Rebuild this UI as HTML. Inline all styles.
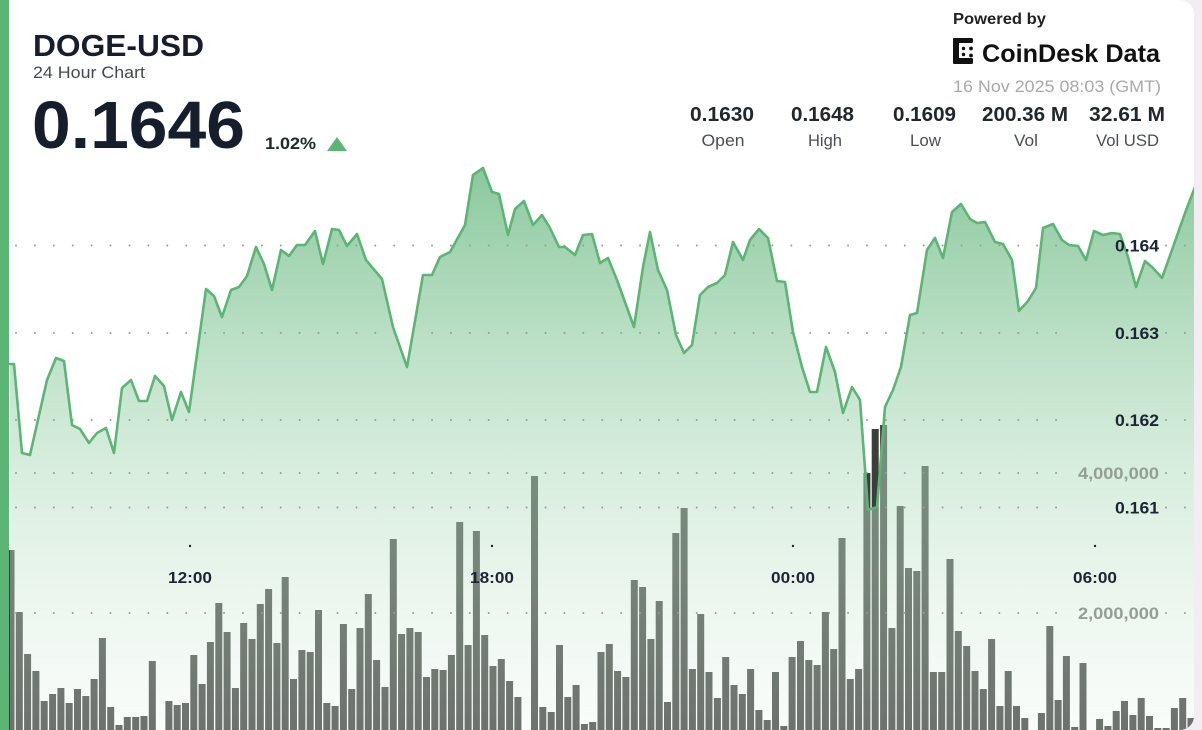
<!DOCTYPE html>
<html><head><meta charset="utf-8"><style>
html,body{margin:0;padding:0;background:#f2ecf3;width:1202px;height:730px;overflow:hidden;}
svg{display:block;font-family:"Liberation Sans",sans-serif;}
</style></head><body>
<svg width="1202" height="730" viewBox="0 0 1202 730" xmlns="http://www.w3.org/2000/svg">
<defs>
<clipPath id="card"><rect x="-30" y="0" width="1224" height="730" rx="14"/></clipPath>
<linearGradient id="g" gradientUnits="userSpaceOnUse" x1="0" y1="165" x2="0" y2="730">
<stop offset="0" stop-color="rgb(92,178,118)" stop-opacity="0.72"/>
<stop offset="0.55" stop-color="rgb(178,221,190)" stop-opacity="0.5"/>
<stop offset="1" stop-color="rgb(235,245,238)" stop-opacity="0.28"/>
</linearGradient>
</defs>
<g clip-path="url(#card)">
<rect x="0" y="0" width="1202" height="730" fill="#ffffff"/>
<path fill="#3b3e3b" d="M7.5,550h7V730h-7zM15.8,612h7V730h-7zM24.1,654h7V730h-7zM32.4,671h7V730h-7zM40.7,701h7V730h-7zM49.1,694h7V730h-7zM57.4,688h7V730h-7zM65.7,703h7V730h-7zM74,689h7V730h-7zM82.3,696h7V730h-7zM90.6,679h7V730h-7zM98.9,638h7V730h-7zM107.2,707h7V730h-7zM115.5,725h7V730h-7zM123.8,717h7V730h-7zM132.2,717h7V730h-7zM140.5,716h7V730h-7zM148.8,661h7V730h-7zM165.4,701h7V730h-7zM173.7,705h7V730h-7zM182,703h7V730h-7zM190.3,655h7V730h-7zM198.6,684h7V730h-7zM206.9,642h7V730h-7zM215.3,603h7V730h-7zM223.6,632h7V730h-7zM231.9,688h7V730h-7zM240.2,623h7V730h-7zM248.5,639h7V730h-7zM256.8,604h7V730h-7zM265.1,589h7V730h-7zM273.4,643h7V730h-7zM281.7,577h7V730h-7zM290,679h7V730h-7zM298.4,650h7V730h-7zM306.7,652h7V730h-7zM315,610h7V730h-7zM323.3,703h7V730h-7zM331.6,706h7V730h-7zM339.9,624h7V730h-7zM348.2,689h7V730h-7zM356.5,628h7V730h-7zM364.8,594h7V730h-7zM373.1,660h7V730h-7zM381.5,687h7V730h-7zM389.8,539h7V730h-7zM398.1,634h7V730h-7zM406.4,628h7V730h-7zM414.7,632h7V730h-7zM423,677h7V730h-7zM431.3,669h7V730h-7zM439.6,670h7V730h-7zM447.9,655h7V730h-7zM456.2,522h7V730h-7zM464.6,645h7V730h-7zM472.9,531h7V730h-7zM481.2,635h7V730h-7zM489.5,666h7V730h-7zM497.8,659h7V730h-7zM506.1,681h7V730h-7zM514.4,697h7V730h-7zM531,476h7V730h-7zM539.3,707h7V730h-7zM547.7,712h7V730h-7zM556,645h7V730h-7zM564.3,697h7V730h-7zM572.6,685h7V730h-7zM580.9,724h7V730h-7zM589.2,722h7V730h-7zM597.5,652h7V730h-7zM605.8,644h7V730h-7zM614.1,671h7V730h-7zM622.4,677h7V730h-7zM630.8,580h7V730h-7zM639.1,587h7V730h-7zM647.4,639h7V730h-7zM655.7,601h7V730h-7zM664,702h7V730h-7zM672.3,533h7V730h-7zM680.6,508h7V730h-7zM688.9,669h7V730h-7zM697.2,614h7V730h-7zM705.5,672h7V730h-7zM713.9,698h7V730h-7zM722.2,657h7V730h-7zM730.5,685h7V730h-7zM738.8,694h7V730h-7zM747.1,669h7V730h-7zM755.4,710h7V730h-7zM763.7,720h7V730h-7zM772,672h7V730h-7zM780.3,726h7V730h-7zM788.6,657h7V730h-7zM797,641h7V730h-7zM805.3,660h7V730h-7zM813.6,665h7V730h-7zM821.9,612h7V730h-7zM830.2,649h7V730h-7zM838.5,538h7V730h-7zM846.8,679h7V730h-7zM855.1,669h7V730h-7zM863.4,473h7V730h-7zM871.7,429h7V730h-7zM880.1,425h7V730h-7zM888.4,628h7V730h-7zM896.7,506h7V730h-7zM905,568h7V730h-7zM913.3,571h7V730h-7zM921.6,466h7V730h-7zM929.9,672h7V730h-7zM938.2,672h7V730h-7zM946.5,559h7V730h-7zM954.8,631h7V730h-7zM963.2,646h7V730h-7zM971.5,671h7V730h-7zM979.8,689h7V730h-7zM988.1,639h7V730h-7zM996.4,706h7V730h-7zM1004.7,671h7V730h-7zM1013,706h7V730h-7zM1021.3,718h7V730h-7zM1037.9,713h7V730h-7zM1046.3,626h7V730h-7zM1054.6,700h7V730h-7zM1062.9,656h7V730h-7zM1071.2,727h7V730h-7zM1079.5,663h7V730h-7zM1096.1,719h7V730h-7zM1104.4,726h7V730h-7zM1112.7,711h7V730h-7zM1121,701h7V730h-7zM1129.4,715h7V730h-7zM1137.7,698h7V730h-7zM1146,716h7V730h-7zM1154.3,728h7V730h-7zM1162.6,728h7V730h-7zM1170.9,708h7V730h-7zM1179.2,698h7V730h-7zM1187.5,718h7V730h-7z"/>
<polygon fill="url(#g)" points="10,364 14,364 22,453 30,455 47,380 56,358 64,361 72,425 80,429 89,443 97,433 106,428 114,453 122,388 131,380 139,401 147,401 155,376 164,386 172,420 181,392 189,412 206,289 214,296 222,317 231,290 239,287 247,276 256,247 264,264 272,290 281,250 289,256 297,245 305,245 315,231 323,264 332,229 339,230 347,246 357,234 366,260 382,279 393,327 407,367 423,275 432,275 440,257 450,252 465,225 473,175 483,168 492,192 499,194 508,235 515,209 524,201 533,225 542,215 550,228 559,247 565,247 575,255 583,235 592,234 600,263 608,258 617,280 634,327 643,267 650,232 658,270 667,290 676,335 684,353 692,345 700,295 708,287 717,283 725,275 733,242 743,260 750,240 759,229 768,238 777,281 785,282 793,332 802,367 810,392 817,392 826,347 835,372 843,413 852,387 860,400 868,510 877,507 885,407 893,390 901,367 910,315 917,313 927,250 935,238 943,258 952,212 961,204 970,219 977,223 985,222 995,242 1003,244 1012,260 1019,311 1028,301 1036,288 1043,228 1053,224 1062,240 1069,245 1078,246 1086,260 1094,231 1103,235 1112,233 1120,234 1128,257 1136,287 1145,261 1153,268 1162,278 1172,250 1185,213 1195,187 1195,730 10,730"/>
<g stroke="#9a9a9a" stroke-width="2" stroke-linecap="round" stroke-dasharray="0.01 18.9" fill="none">
<path d="M16,245.5H1060M1166,245.5H1190M16,333H1060M1166,333H1190M16,420H1060M1166,420H1190M16,507.5H1060M1166,507.5H1190M16,473H1060M1166,473H1190M16,613H1060M1166,613H1190"/>
</g>
<polyline fill="none" stroke="#5cb574" stroke-width="2.6" stroke-linejoin="round" stroke-linecap="round" points="10,364 14,364 22,453 30,455 47,380 56,358 64,361 72,425 80,429 89,443 97,433 106,428 114,453 122,388 131,380 139,401 147,401 155,376 164,386 172,420 181,392 189,412 206,289 214,296 222,317 231,290 239,287 247,276 256,247 264,264 272,290 281,250 289,256 297,245 305,245 315,231 323,264 332,229 339,230 347,246 357,234 366,260 382,279 393,327 407,367 423,275 432,275 440,257 450,252 465,225 473,175 483,168 492,192 499,194 508,235 515,209 524,201 533,225 542,215 550,228 559,247 565,247 575,255 583,235 592,234 600,263 608,258 617,280 634,327 643,267 650,232 658,270 667,290 676,335 684,353 692,345 700,295 708,287 717,283 725,275 733,242 743,260 750,240 759,229 768,238 777,281 785,282 793,332 802,367 810,392 817,392 826,347 835,372 843,413 852,387 860,400 868,510 877,507 885,407 893,390 901,367 910,315 917,313 927,250 935,238 943,258 952,212 961,204 970,219 977,223 985,222 995,242 1003,244 1012,260 1019,311 1028,301 1036,288 1043,228 1053,224 1062,240 1069,245 1078,246 1086,260 1094,231 1103,235 1112,233 1120,234 1128,257 1136,287 1145,261 1153,268 1162,278 1172,250 1185,213 1195,187"/>
<g font-weight="bold" font-size="17" fill="#1d2433" text-anchor="end">
<text x="1159" y="251.5" textLength="44" lengthAdjust="spacingAndGlyphs">0.164</text>
<text x="1159" y="339" textLength="44" lengthAdjust="spacingAndGlyphs">0.163</text>
<text x="1159" y="426" textLength="44" lengthAdjust="spacingAndGlyphs">0.162</text>
<text x="1159" y="513.5" textLength="44" lengthAdjust="spacingAndGlyphs">0.161</text>
</g>
<g font-weight="bold" font-size="17" fill="#939e95" text-anchor="end">
<text x="1159" y="479" textLength="81" lengthAdjust="spacingAndGlyphs">4,000,000</text>
<text x="1159" y="619" textLength="81" lengthAdjust="spacingAndGlyphs">2,000,000</text>
</g>
<g fill="#1d2433">
<circle cx="190" cy="546" r="1.2"/><circle cx="492" cy="546" r="1.2"/><circle cx="793" cy="546" r="1.2"/><circle cx="1095" cy="546" r="1.2"/>
</g>
<g font-weight="bold" font-size="16" fill="#1d2433" text-anchor="middle">
<text x="190" y="583" textLength="44" lengthAdjust="spacingAndGlyphs">12:00</text>
<text x="492" y="583" textLength="44" lengthAdjust="spacingAndGlyphs">18:00</text>
<text x="793" y="583" textLength="44" lengthAdjust="spacingAndGlyphs">00:00</text>
<text x="1095" y="583" textLength="44" lengthAdjust="spacingAndGlyphs">06:00</text>
</g>
<text x="33" y="56" font-size="31" font-weight="bold" fill="#161e2e" textLength="171" lengthAdjust="spacingAndGlyphs">DOGE-USD</text>
<text x="33" y="78" font-size="17" fill="#444a52" textLength="112" lengthAdjust="spacingAndGlyphs">24 Hour Chart</text>
<text x="32" y="148" font-size="67" font-weight="bold" fill="#161e2e" textLength="213" lengthAdjust="spacingAndGlyphs">0.1646</text>
<text x="265" y="149" font-size="17" font-weight="bold" fill="#22282f" textLength="51" lengthAdjust="spacingAndGlyphs">1.02%</text>
<polygon points="327,151 347,151 337,137" fill="#5cb574"/>
<text x="953" y="24" font-size="16" font-weight="bold" fill="#222" textLength="93" lengthAdjust="spacingAndGlyphs">Powered by</text>
<g fill="#111">
<rect x="953" y="38" width="6" height="26" rx="1.5"/>
<rect x="953" y="38" width="20" height="5" rx="1.5"/>
<rect x="953" y="58" width="20" height="6" rx="1.5"/>
<circle cx="963.5" cy="48.5" r="1.7"/><circle cx="963.5" cy="54.5" r="1.7"/>
<circle cx="971" cy="48.5" r="1.9"/><circle cx="971" cy="55.5" r="1.9"/>
</g>
<text x="982" y="62" font-size="25" font-weight="bold" fill="#111" textLength="178" lengthAdjust="spacingAndGlyphs">CoinDesk Data</text>
<text x="953" y="92" font-size="17" fill="#a9a9a9" textLength="208" lengthAdjust="spacingAndGlyphs">16 Nov 2025 08:03 (GMT)</text>
<g font-size="20" font-weight="bold" fill="#22262d" text-anchor="middle">
<text x="722" y="121" textLength="64" lengthAdjust="spacingAndGlyphs">0.1630</text>
<text x="822.5" y="121" textLength="63" lengthAdjust="spacingAndGlyphs">0.1648</text>
<text x="924.5" y="121" textLength="63" lengthAdjust="spacingAndGlyphs">0.1609</text>
<text x="1025" y="121" textLength="86" lengthAdjust="spacingAndGlyphs">200.36 M</text>
<text x="1127" y="121" textLength="76" lengthAdjust="spacingAndGlyphs">32.61 M</text>
</g>
<g font-size="17" fill="#4a4f55" text-anchor="middle">
<text x="723" y="146" textLength="43" lengthAdjust="spacingAndGlyphs">Open</text>
<text x="825" y="146" textLength="34" lengthAdjust="spacingAndGlyphs">High</text>
<text x="925.5" y="146" textLength="31" lengthAdjust="spacingAndGlyphs">Low</text>
<text x="1026" y="146" textLength="24" lengthAdjust="spacingAndGlyphs">Vol</text>
<text x="1127.5" y="146" textLength="63" lengthAdjust="spacingAndGlyphs">Vol USD</text>
</g>
<rect x="0" y="0" width="9" height="730" fill="#5cb574"/>
</g>
</svg>
</body></html>
